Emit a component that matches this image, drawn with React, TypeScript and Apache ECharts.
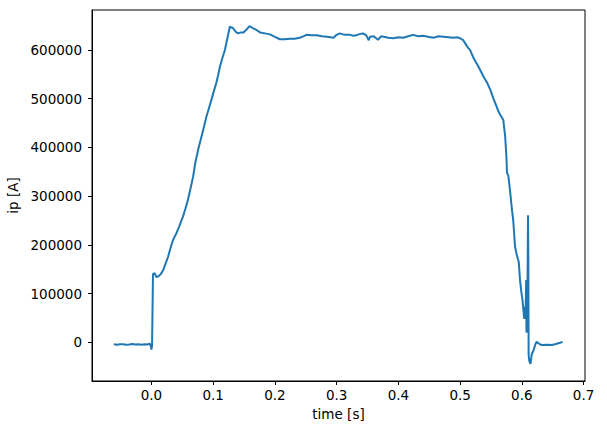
import React, { useEffect, useRef } from "react";
import * as echarts from "echarts";

const times: number[] = [
  -0.061, -0.056, -0.051, -0.046, -0.041, -0.036, -0.031, -0.026, -0.021, -0.016, -0.011, -0.006, -0.003, -0.001, 0.0, 0.001,
  0.0025, 0.005, 0.008, 0.011, 0.015, 0.019, 0.023, 0.027, 0.031, 0.035, 0.038, 0.0405, 0.045, 0.051, 0.055, 0.059,
  0.063, 0.0675, 0.071, 0.0756, 0.081, 0.085, 0.089, 0.093, 0.097, 0.101, 0.105, 0.108, 0.111, 0.115, 0.119, 0.123,
  0.127, 0.13, 0.132, 0.136, 0.14, 0.145, 0.149, 0.154, 0.159, 0.164, 0.17, 0.176, 0.184, 0.192, 0.2, 0.208,
  0.216, 0.224, 0.232, 0.24, 0.246, 0.251, 0.259, 0.268, 0.276, 0.284, 0.29, 0.295, 0.3, 0.305, 0.313, 0.322,
  0.327, 0.332, 0.338, 0.343, 0.348, 0.352, 0.354, 0.36, 0.367, 0.372, 0.376, 0.384, 0.392, 0.4, 0.408, 0.416,
  0.424, 0.432, 0.44, 0.448, 0.457, 0.465, 0.473, 0.481, 0.489, 0.495, 0.5, 0.505, 0.508, 0.512, 0.516, 0.522,
  0.53, 0.538, 0.544, 0.549, 0.554, 0.559, 0.562, 0.565, 0.57, 0.573, 0.575, 0.576, 0.578, 0.581, 0.584, 0.586,
  0.589, 0.592, 0.595, 0.597, 0.599, 0.601, 0.603, 0.604, 0.605, 0.606, 0.607, 0.6075, 0.608, 0.609, 0.61, 0.6105,
  0.611, 0.612, 0.614, 0.616, 0.619, 0.622, 0.624, 0.628, 0.632, 0.64, 0.649, 0.655, 0.662, 0.666,
];

const ipValues: number[] = [
  -4000, -5000, -4200, -3800, -4800, -4300, -3700, -4600, -4100, -5100, -3900, -4400, -2500, -8000, -15000, -6000,
  140000, 142000, 134000, 135000, 140000, 148000, 162000, 176000, 194000, 210000, 218000, 224000, 238000, 258000, 274000, 292000,
  314000, 340000, 368000, 395000, 422000, 442000, 463000, 480000, 497000, 515000, 532000, 548000, 566000, 584000, 600000, 624000,
  648000, 646000, 645000, 638000, 634000, 636000, 636000, 642000, 649000, 645000, 641000, 636000, 634000, 632000, 627000, 622000,
  622000, 623000, 623000, 625000, 628000, 631000, 630000, 630000, 628000, 627000, 626000, 625000, 631000, 634000, 631000, 631000,
  629000, 630000, 633000, 634000, 630000, 620000, 627000, 628000, 621000, 628000, 627000, 625000, 624000, 626000, 625000, 628000,
  631000, 628000, 629000, 627000, 625000, 628000, 627000, 626000, 625000, 626000, 624000, 620000, 614000, 606000, 600000, 583000,
  565000, 545000, 532000, 518000, 500000, 484000, 474000, 467000, 456000, 422000, 380000, 347000, 343000, 310000, 272000, 251000,
  196000, 178000, 165000, 128000, 105000, 87000, 60000, 48000, 73000, 55000, 128000, 20000, 22000, 90000, 261000, 180000,
  -26000, -38000, -44000, -25000, -16000, -4000, 1000, -3000, -5500, -5000, -5500, -3500, -1000, 1000,
];

const xTicks: number[] = [0, 0.1, 0.2, 0.3, 0.4, 0.5, 0.6, 0.7];
const yTicks: number[] = [0, 100000, 200000, 300000, 400000, 500000, 600000];

const FONT = "DejaVu Sans";

export default function App() {
  const ref = useRef<HTMLDivElement>(null);
  useEffect(() => {
    if (!ref.current) return;
    const chart = echarts.init(ref.current, null, { renderer: "svg" });
    const data = times.map((t, i) => [t, ipValues[i]]);
    chart.setOption({
      animation: false,
      backgroundColor: "#ffffff",
      grid: {
        left: 92,
        right: 22,
        top: 10,
        bottom: 51,
        show: true,
        borderColor: "#000",
        borderWidth: 1,
        containLabel: false,
        outerBoundsMode: "none",
      },
      xAxis: {
        type: "value",
        min: -0.0963,
        max: 0.7023,
        name: "time [s]",
        nameLocation: "middle",
        nameGap: 26,
        nameTextStyle: { color: "#000", fontFamily: FONT, fontSize: 13.5 },
        axisLine: { show: true, onZero: false, lineStyle: { color: "#000", width: 1 } },
        axisTick: { show: true, inside: false, length: 4, customValues: xTicks, lineStyle: { color: "#000", width: 1 } },
        axisLabel: {
          show: true,
          margin: 7,
          color: "#000",
          fontFamily: FONT,
          fontSize: 13.5,
          customValues: xTicks,
          formatter: (v: number) => v.toFixed(1),
        },
        splitLine: { show: false },
      },
      yAxis: {
        type: "value",
        min: -79400,
        max: 682000,
        name: "ip [A]",
        nameLocation: "middle",
        nameGap: 70,
        nameRotate: 90,
        nameTextStyle: { color: "#000", fontFamily: FONT, fontSize: 13.5 },
        axisLine: { show: true, onZero: false, lineStyle: { color: "#000", width: 1 } },
        axisTick: { show: true, inside: false, length: 4, customValues: yTicks, lineStyle: { color: "#000", width: 1 } },
        axisLabel: {
          show: true,
          margin: 10,
          color: "#000",
          fontFamily: FONT,
          fontSize: 13.5,
          customValues: yTicks,
          formatter: (v: number) => String(Math.round(v)),
        },
        splitLine: { show: false },
      },
      series: [
        {
          type: "line",
          data,
          showSymbol: false,
          symbol: "none",
          lineStyle: { color: "#1f77b4", width: 2 },
          itemStyle: { color: "#1f77b4" },
        },
      ],
    });
    return () => chart.dispose();
  }, []);
  return <div ref={ref} style={{ position: "fixed", left: 0, top: 0, width: 607, height: 432 }} />;
}
